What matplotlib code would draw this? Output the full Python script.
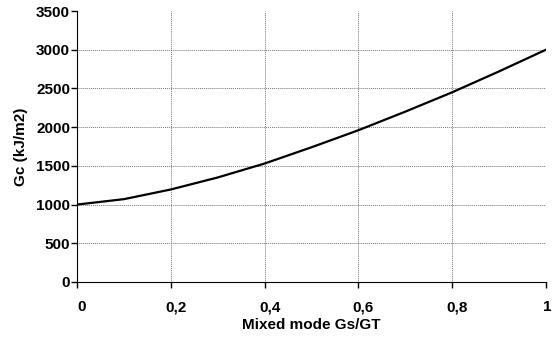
import matplotlib
matplotlib.use("Agg")
import matplotlib.pyplot as plt
from matplotlib.transforms import ScaledTranslation

# ratio de mode mixte et énergie de rupture
mode_ratio = [0.0, 0.1, 0.2, 0.3, 0.4, 0.5, 0.6, 0.7, 0.8, 0.9, 1.0]
gc_values = [1000, 1070, 1195, 1350, 1530, 1740, 1960, 2200, 2450, 2720, 3000]

x_ticks = [0, 0.2, 0.4, 0.6, 0.8, 1]
x_labels = ["0", "0,2", "0,4", "0,6", "0,8", "1"]
y_ticks = [0, 500, 1000, 1500, 2000, 2500, 3000, 3500]

plt.rcParams["font.family"] = ["Liberation Sans", "DejaVu Sans"]
plt.rcParams["font.weight"] = "bold"

fig = plt.figure(figsize=(5.52, 3.40), dpi=100)
ax = fig.add_axes([0.1395, 0.1706, 0.8495, 0.797])

ax.plot(mode_ratio, gc_values, color="black", linewidth=1.6)

ax.set_xlim(0, 1)
ax.set_ylim(0, 3500)
ax.set_xticks(x_ticks)
ax.set_xticklabels(x_labels)
ax.set_yticks(y_ticks)
ax.tick_params(labelsize=11, length=4, width=1)
ax.tick_params(axis="x", pad=9)
ax.tick_params(axis="y", pad=1)
# les étiquettes de x sont un peu décalées vers la droite (sauf la dernière)
xlabs = ax.get_xticklabels()
for lab in xlabs[:-1]:
    lab.set_transform(lab.get_transform() + ScaledTranslation(5/100, 0, fig.dpi_scale_trans))
xlabs[-1].set_transform(xlabs[-1].get_transform() + ScaledTranslation(1/100, 0, fig.dpi_scale_trans))
for lab in xlabs + ax.get_yticklabels():
    lab.set_fontweight("bold")

ax.set_xlabel("Mixed mode Gs/GT", fontsize=11, fontweight="bold", labelpad=3)
ax.set_ylabel("Gc (kJ/m2)", fontsize=11, fontweight="bold", labelpad=6)

ax.spines["top"].set_visible(False)
ax.spines["right"].set_visible(False)
ax.grid(which="major", axis="both", linestyle=(0, (1, 1)), color="#777777", linewidth=0.7)
ax.xaxis.get_gridlines()[0].set_visible(False)
ax.xaxis.get_gridlines()[-1].set_visible(False)
ax.yaxis.get_gridlines()[0].set_visible(False)
ax.yaxis.get_gridlines()[-1].set_visible(False)
ax.set_axisbelow(True)

fig.savefig("out.png", dpi=100)
